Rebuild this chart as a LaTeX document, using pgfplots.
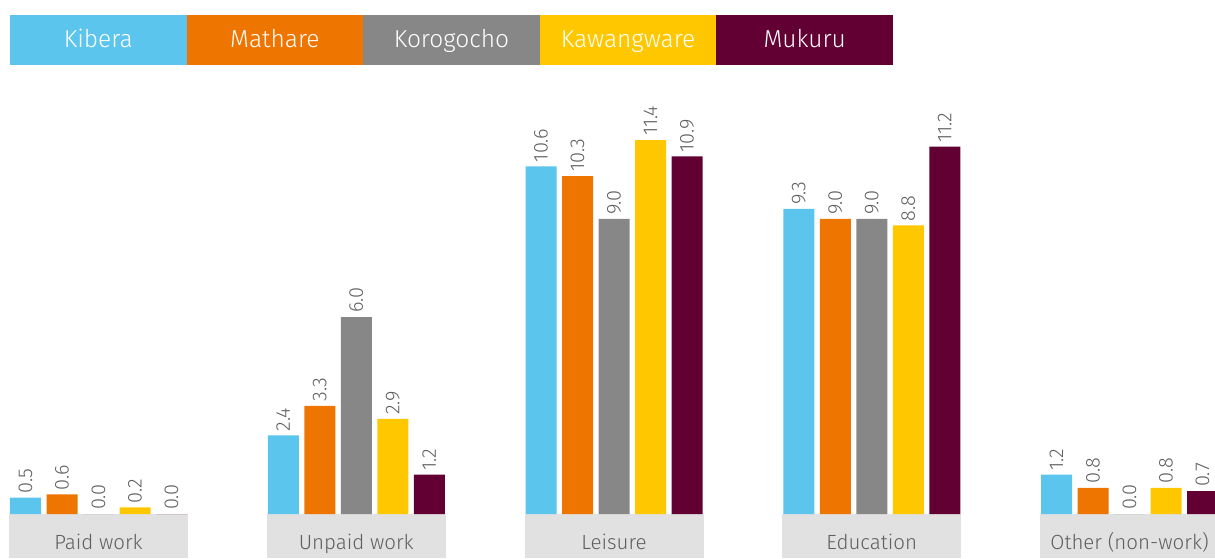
\documentclass[border=0pt]{standalone}
\usepackage{pgfplots}
\pgfplotsset{compat=1.18}
\usepackage{fontspec}
\setmainfont{Fira Sans}[UprightFont=* Light]
\definecolor{cKib}{HTML}{5BC5EE}
\definecolor{cMat}{HTML}{EE7500}
\definecolor{cKor}{HTML}{878787}
\definecolor{cKaw}{HTML}{FFC700}
\definecolor{cMuk}{HTML}{620033}
\definecolor{boxgrey}{HTML}{E1E1E1}
\definecolor{txtgrey}{HTML}{5F5F5F}
\begin{document}
\begin{tikzpicture}
\begin{axis}[
  scale only axis,
  width=1215pt, height=514pt,
  xmin=-0.38215, xmax=4.33172,
  ymin=0, ymax=15.67,
  ybar=5.5pt, bar width=31pt,
  axis line style={draw=none},
  ytick=\empty,
  xtick={0,1,2,3,4},
  xticklabels={Paid work, Unpaid work, Leisure, Education, Other (non-work)},
  major tick length=0pt,
  xtick style={draw=none},
  xticklabel style={fill=boxgrey, minimum width=179pt, minimum height=44pt,
     inner sep=0pt, anchor=north, yshift=0pt, text=txtgrey,
     text height=28pt, text depth=2pt, font=\fontsize{20.5}{24}\selectfont},
  nodes near coords,
  nodes near coords style={rotate=90, anchor=west, text=txtgrey, inner sep=4pt,
     font=\fontsize{20}{22}\selectfont,
     /pgf/number format/.cd, fixed, fixed zerofill, precision=1, assume math mode=true},
  every axis plot/.append style={draw=none},
]
\addplot[fill=cKib] coordinates {(0,0.5) (1,2.4) (2,10.6) (3,9.3) (4,1.2)};
\addplot[fill=cMat] coordinates {(0,0.6) (1,3.3) (2,10.3) (3,9.0) (4,0.8)};
\addplot[fill=cKor] coordinates {(0,0.0) (1,6.0) (2,9.0) (3,9.0) (4,0.0)};
\addplot[fill=cKaw] coordinates {(0,0.2) (1,2.9) (2,11.4) (3,8.8) (4,0.8)};
\addplot[fill=cMuk] coordinates {(0,0.0) (1,1.2) (2,10.9) (3,11.2) (4,0.7)};
\end{axis}
\foreach \c/\n [count=\i from 0] in {cKib/Kibera, cMat/Mathare, cKor/Korogocho, cKaw/Kawangware, cMuk/Mukuru}{
  \node[fill=\c, minimum width=176.8pt, minimum height=50pt, inner sep=0pt,
        text height=20pt, text depth=4pt,
        text=white, font=\fontsize{24.5}{28}\selectfont]
     at ({10pt+88.3pt+\i*176.6pt}, 474pt) {\n};
}
\pgfresetboundingbox
\useasboundingbox (0,-44pt) rectangle (1215pt,514pt);
\end{tikzpicture}
\end{document}
